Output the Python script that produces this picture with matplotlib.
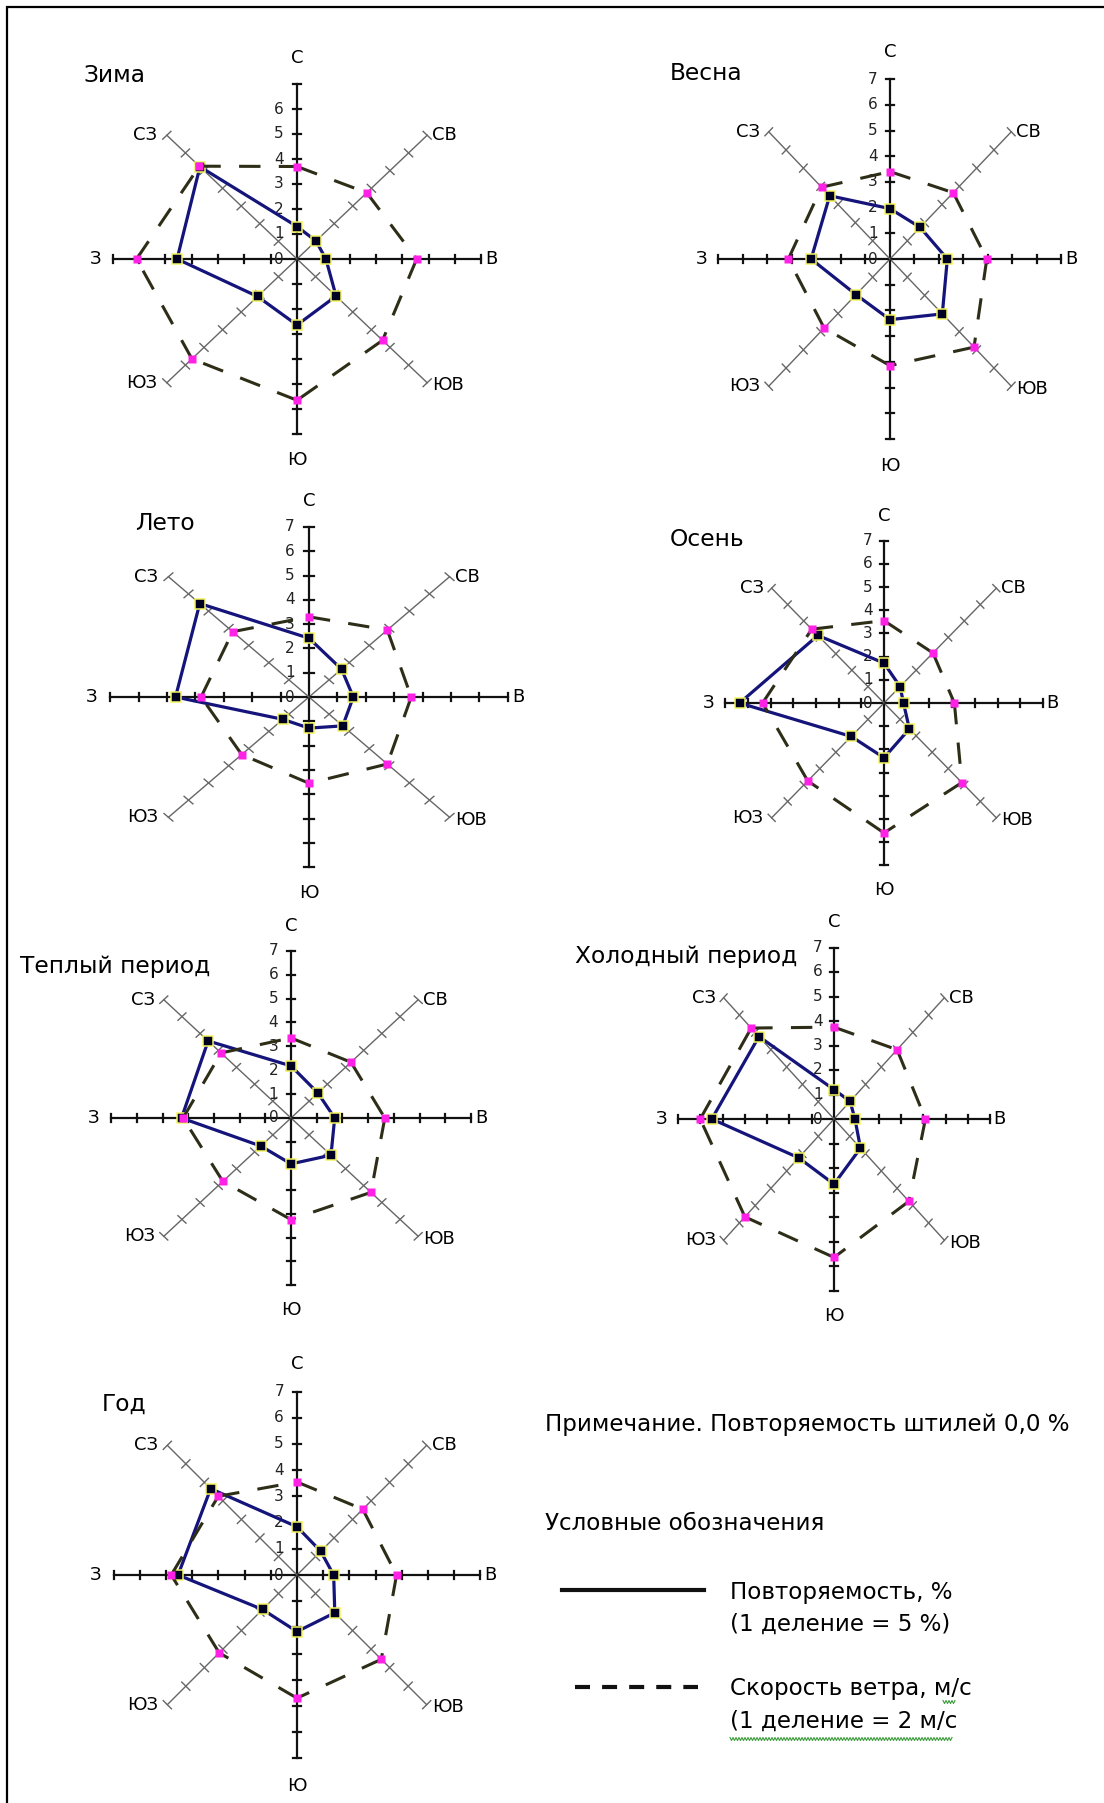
import numpy as np
import matplotlib
matplotlib.use('Agg')
import matplotlib.pyplot as plt

W_PX, H_PX, DPI = 1104, 1803, 100
plt.rcParams['font.family'] = ['DejaVu Sans']

directions = ['С', 'СВ', 'В', 'ЮВ', 'Ю', 'ЮЗ', 'З', 'СЗ']
titles = ['Зима', 'Весна', 'Лето', 'Осень', 'Теплый период', 'Холодный период', 'Год']

# повторяемость направлений ветра, % (С, СВ, В, ЮВ, Ю, ЮЗ, З, СЗ)
freq_winter = [6.5, 5.1, 5.5, 10.5, 13.2, 10.6, 22.8, 26.1]
freq_spring = [9.8, 8.7, 11.7, 15.1, 11.8, 9.8, 16.1, 17.4]
freq_summer = [12.1, 8.1, 7.8, 8.4, 6.4, 6.5, 23.5, 27.2]
freq_autumn = [8.6, 5.0, 4.3, 7.9, 11.8, 10.2, 31.8, 20.6]
freq_warm = [10.9, 7.4, 8.5, 11.0, 9.6, 8.3, 21.3, 22.8]
freq_cold = [6.0, 5.1, 4.7, 8.4, 13.3, 11.2, 27.4, 23.8]
freq_year = [9.2, 6.4, 7.0, 10.2, 10.8, 9.3, 22.7, 23.3]

# средняя скорость ветра по направлениям, м/с
speed_winter = [7.4, 7.5, 9.1, 9.2, 11.3, 11.3, 12.2, 10.5]
speed_spring = [6.8, 7.3, 7.9, 9.7, 8.3, 7.6, 8.3, 7.9]
speed_summer = [6.6, 7.8, 7.2, 7.8, 7.1, 6.7, 7.6, 7.6]
speed_autumn = [7.1, 6.1, 6.2, 9.7, 11.2, 9.5, 10.7, 9.0]
speed_warm = [6.7, 6.6, 7.3, 8.8, 8.5, 7.5, 8.4, 7.7]
speed_cold = [7.5, 8.0, 8.2, 9.5, 11.3, 11.3, 12.0, 10.5]
speed_year = [7.1, 7.1, 7.6, 9.1, 9.4, 8.4, 9.6, 8.5]

freqs = [freq_winter, freq_spring, freq_summer, freq_autumn, freq_warm, freq_cold, freq_year]
speeds = [speed_winter, speed_spring, speed_summer, speed_autumn, speed_warm, speed_cold, speed_year]

FREQ_STEP = 5.0   # 1 деление = 5 %
SPEED_STEP = 2.0  # 1 деление = 2 м/с
N_DIV = 7

# centre x, centre y, px per division (x, y), title x, title y, top scale label
layout = [
    (297, 259, 26.3, 25.0, 83, 75, 6),
    (890, 259, 24.5, 25.7, 670, 74, 7),
    (309, 697, 28.4, 24.3, 135, 523, 7),
    (884, 703, 22.7, 23.2, 670, 540, 7),
    (291, 1118, 25.7, 23.9, 20, 967, 7),
    (834, 1119, 22.3, 24.5, 575, 957, 7),
    (297, 1575, 26.2, 26.2, 102, 1404, 7),
]

R = 9.0
theta = np.deg2rad(90 - 45 * np.arange(8))
ux, uy = np.cos(theta), np.sin(theta)

fig = plt.figure(figsize=(W_PX / DPI, H_PX / DPI), dpi=DPI)
fig.patch.set_facecolor('white')


def draw_rose(ax, freq, speed, top_label):
    ax.set_xlim(-R, R)
    ax.set_ylim(-R, R)
    ax.axis('off')
    # spokes with division ticks
    for i in range(8):
        main = i % 2 == 0
        col = '#111111' if main else '#666666'
        lw = 1.6 if main else 1.0
        half = 0.16 if main else 0.22
        ax.plot([0, N_DIV * ux[i]], [0, N_DIV * uy[i]], color=col, lw=lw, zorder=1)
        px, py = -uy[i], ux[i]
        for k in range(1, N_DIV + 1):
            cx, cy = k * ux[i], k * uy[i]
            ax.plot([cx - half * px, cx + half * px], [cy - half * py, cy + half * py],
                    color=col, lw=lw, zorder=1)
    # direction names
    d = N_DIV / np.sqrt(2)
    ax.text(0, 8.05, 'С', ha='center', va='center', fontsize=13)
    ax.text(0, -8.05, 'Ю', ha='center', va='center', fontsize=13)
    ax.text(7.15, 0, 'В', ha='left', va='center', fontsize=13)
    ax.text(-7.45, 0, 'З', ha='right', va='center', fontsize=13)
    ax.text(d + 0.2, d, 'СВ', ha='left', va='center', fontsize=13)
    ax.text(-d - 0.35, d, 'СЗ', ha='right', va='center', fontsize=13)
    ax.text(d + 0.2, -d - 0.1, 'ЮВ', ha='left', va='center', fontsize=13)
    ax.text(-d - 0.35, -d, 'ЮЗ', ha='right', va='center', fontsize=13)
    for v in range(top_label + 1):
        ax.text(-0.5, v, str(v), ha='right', va='center', fontsize=11, color='#222222')

    r_f = np.array(freq) / FREQ_STEP
    r_s = np.array(speed) / SPEED_STEP
    xf, yf = r_f * ux, r_f * uy
    xs, ys = r_s * ux, r_s * uy
    xf_c, yf_c = np.append(xf, xf[0]), np.append(yf, yf[0])
    xs_c, ys_c = np.append(xs, xs[0]), np.append(ys, ys[0])

    ax.plot(xf_c, yf_c, color='#14147a', lw=2.3, zorder=3, solid_joinstyle='round')
    ax.plot(xf, yf, ls='none', marker='s', ms=6.5, mfc='#000022', mec='#f5f560',
            mew=1.1, zorder=4)
    # dash pattern restarts at every vertex
    for k in range(8):
        ax.plot(xs_c[k:k + 2], ys_c[k:k + 2], color='#2e2e18', lw=2.2,
                ls=(0, (7, 6)), dash_capstyle='butt', zorder=5)
    ax.plot(xs, ys, ls='none', marker='s', ms=6, mfc='#ff22e6', mec='none', zorder=6)


for (cx, cy, sx, sy, tx, ty, top), fr, sp in zip(layout, freqs, speeds):
    w, h = 2 * R * sx, 2 * R * sy
    ax = fig.add_axes([(cx - R * sx) / W_PX, (H_PX - cy - R * sy) / H_PX, w / W_PX, h / H_PX])
    ax.patch.set_alpha(0)
    draw_rose(ax, fr, sp, top)

# overlay in pixel coordinates for titles, notes and legend
ov = fig.add_axes([0, 0, 1, 1])
ov.set_xlim(0, W_PX)
ov.set_ylim(H_PX, 0)
ov.axis('off')
ov.patch.set_alpha(0)

for (cx, cy, sx, sy, tx, ty, top), title in zip(layout, titles):
    ov.text(tx, ty, title, ha='left', va='center', fontsize=16.8)

# frame
ov.plot([7, 7, W_PX], [H_PX, 7, 7], color='black', lw=1.6, solid_joinstyle='miter')

ov.text(545, 1425, 'Примечание. Повторяемость штилей 0,0 %', ha='left', va='center', fontsize=16.6)
ov.text(545, 1524, 'Условные обозначения', ha='left', va='center', fontsize=16.6)
ov.plot([562, 704], [1590, 1590], color='#111111', lw=3.0)
ov.text(730, 1592, 'Повторяемость, %', ha='left', va='center', fontsize=16.6)
ov.text(730, 1624, '(1 деление = 5 %)', ha='left', va='center', fontsize=16.6)
ov.plot([575, 698], [1687, 1687], color='#111111', lw=3.0, ls=(0, (3.6, 2.9)), dash_capstyle='butt')
ov.text(730, 1688, 'Скорость ветра, м/с', ha='left', va='center', fontsize=16.6)
ov.text(730, 1721, '(1 деление = 2 м/с', ha='left', va='center', fontsize=16.6)

# spell-check squiggles
for x0, x1, y0 in [(730, 952, 1739), (943, 955, 1702)]:
    xx = np.arange(x0, x1 + 1, 1.5)
    yy = y0 + 1.5 * np.where((np.arange(len(xx)) % 2) == 0, -1, 1)
    ov.plot(xx, yy, color='#3a9a3a', lw=0.8)

fig.savefig('out.png', dpi=DPI, facecolor='white')
